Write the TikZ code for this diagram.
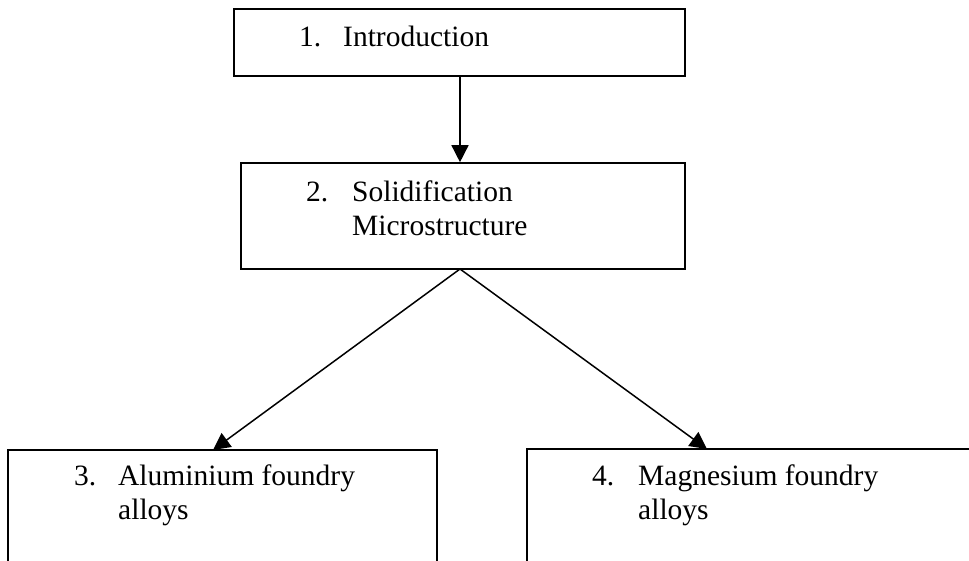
\documentclass[tikz,border=0pt]{standalone}
\usepackage{fontspec}
\setmainfont{Liberation Serif}
\usetikzlibrary{arrows.meta,calc}
\begin{document}
\begin{tikzpicture}[x=1pt,y=-1pt,
  box/.style={draw=black,line width=1.6pt,rectangle,inner sep=0pt,fill=none},
  txt/.style={anchor=base west,inner sep=0pt,font=\fontsize{29.5}{34}\selectfont},
  conn/.style={draw=black,line width=1.5pt,-{Triangle[length=17pt,width=17pt]}}]
\useasboundingbox (0,0) rectangle (969,561);
\clip (0,0) rectangle (969,561);
\fill[white] (0,0) rectangle (969,561);
% boxes
\node[box,minimum width=451pt,minimum height=67pt] (box1) at (459.5,42.5) {};
\node[box,minimum width=444pt,minimum height=106pt] (box2) at (463,216) {};
\node[box,minimum width=429pt,minimum height=200pt] (box3) at (222.5,550) {};
\node[box,minimum width=470pt,minimum height=200pt] (box4) at (762,549) {};
% texts
\node[txt] (t1) at (299,47) {\makebox[44pt][l]{1.}Introduction};
\node[txt] (t2a) at (306,202) {\makebox[46pt][l]{2.}Solidification};
\node[txt] (t2b) at (352,236) {Microstructure};
\node[txt] (t3a) at (74,485) {\makebox[44pt][l]{3.}Aluminium foundry};
\node[txt] (t3b) at (118,519) {alloys};
\node[txt] (t4a) at (592,485) {\makebox[46pt][l]{4.}Magnesium foundry};
\node[txt] (t4b) at (638,519) {alloys};
% connectors
\coordinate (s1) at (460,76);
\coordinate (s2) at (460,269);
\coordinate (e3) at (213,450);
\coordinate (e4) at (707,449);
\draw[conn] (s1) -- (s1 |- box2.north);
\draw[conn] (s2) -- (e3);
\draw[conn] (s2) -- (e4);
\end{tikzpicture}
\end{document}
